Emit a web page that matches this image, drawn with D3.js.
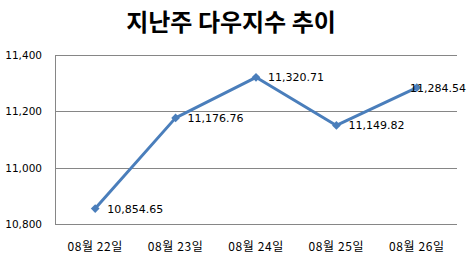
<!DOCTYPE html>
<html><head><meta charset="utf-8">
<script src="https://cdn.jsdelivr.net/npm/d3@7"></script>
<style>body{margin:0;background:#fff}</style>
</head><body>
<svg id="c" width="469" height="261"></svg>
<script>
const title = "지난주 다우지수 추이";
const categories = ["08월 22일","08월 23일","08월 24일","08월 25일","08월 26일"];
const values = [10854.65, 11176.76, 11320.71, 11149.82, 11284.54];
const yTicks = [10800, 11000, 11200, 11400];

const W = 469;
const svg = d3.select("#c");
const m = {left:55, right:457, top:55, bottom:224};
const x = d3.scaleBand().domain(categories).range([m.left, m.right]);
const y = d3.scaleLinear().domain([10800, 11400]).range([m.bottom, m.top]);
const fmt = d3.format(",");
const fmt2 = d3.format(",.2f");

svg.append("text").attr("x", 231).attr("y", 31).attr("text-anchor","middle")
  .attr("font-family","'Noto Sans CJK KR', sans-serif").attr("font-weight","bold")
  .attr("font-size", 24).attr("fill","#000").text(title);

// gridlines
svg.append("g").selectAll("line").data(yTicks).join("line")
  .attr("x1", m.left).attr("x2", m.right)
  .attr("y1", d=>Math.round(y(d))+0.5).attr("y2", d=>Math.round(y(d))+0.5)
  .attr("stroke","#868686").attr("stroke-width",1);
svg.append("line").attr("x1", m.left+0.5).attr("x2", m.left+0.5)
  .attr("y1", m.top).attr("y2", m.bottom+0.5).attr("stroke","#868686");

// y axis labels
const yAxis = d3.axisLeft(y).tickValues(yTicks).tickFormat(fmt).tickSize(0).tickPadding(13);
const gy = svg.append("g").attr("transform", `translate(${m.left},0)`).call(yAxis);
gy.select(".domain").remove();
gy.selectAll("text").attr("font-family","'DejaVu Sans', sans-serif").attr("font-size",10.5).attr("fill","#000");

// x axis labels
const xAxis = d3.axisBottom(x).tickSize(0).tickPadding(18);
const gx = svg.append("g").attr("transform", `translate(0,${m.bottom})`).call(xAxis);
gx.select(".domain").remove();
gx.selectAll("text").attr("font-family","'Noto Sans CJK KR', sans-serif").attr("font-size",12)
  .attr("letter-spacing", 0.6).attr("fill","#000");

const cx = d => x(d) + x.bandwidth()/2;
const line = d3.line().x((d,i)=>cx(categories[i])).y(d=>y(d));
svg.append("path").datum(values).attr("d", line)
  .attr("fill","none").attr("stroke","#4a7ebb").attr("stroke-width",3).attr("stroke-linejoin","round");

svg.append("g").selectAll("path").data(values).join("path")
  .attr("d", d3.symbol().type(d3.symbolSquare).size(38))
  .attr("transform",(d,i)=>`translate(${cx(categories[i])},${y(d)}) rotate(45)`)
  .attr("fill","#4a7ebb");

svg.append("g").selectAll("text").data(values).join("text")
  .attr("y",d=>y(d)+4)
  .attr("font-family","'DejaVu Sans', sans-serif").attr("font-size",11).attr("fill","#000")
  .text(d=>fmt2(d))
  .each(function(d,i){
    const w = this.getComputedTextLength();
    const px = Math.min(cx(categories[i]) + 12, W - 3 - w);
    d3.select(this).attr("x", px);
  });
</script>
</body></html>
